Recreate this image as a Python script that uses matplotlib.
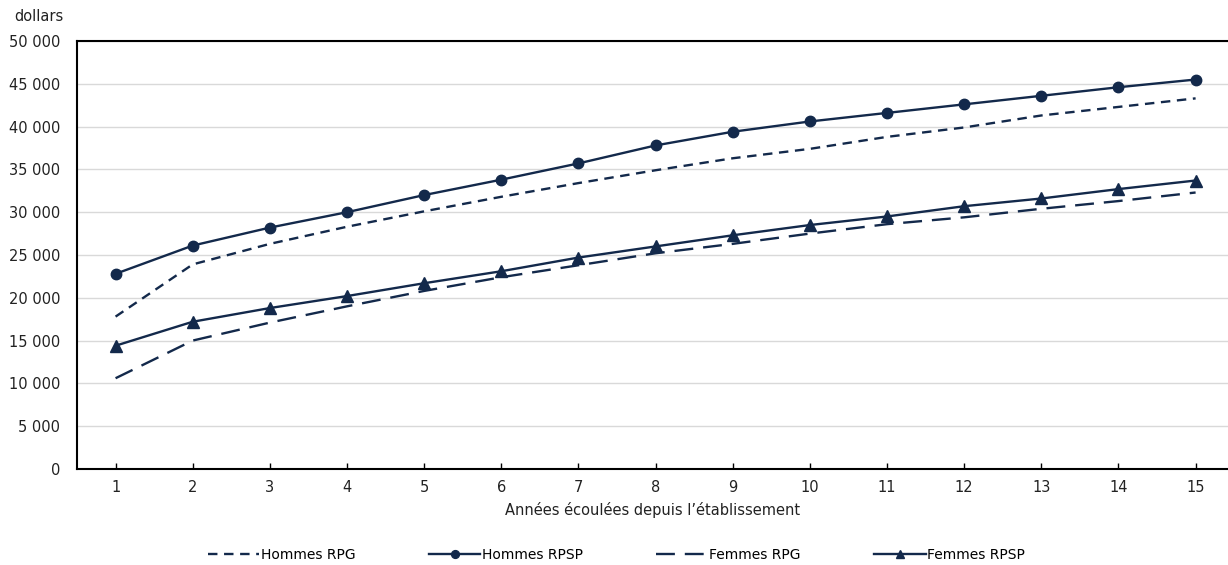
# coding: utf-8
import matplotlib
matplotlib.use("Agg")
from matplotlib import pyplot as plt
from matplotlib.ticker import FuncFormatter

years = list(range(1, 16))
hommes_rpg = [17.8, 23.9, 26.3, 28.3, 30.1, 31.8, 33.4, 34.9, 36.3, 37.4, 38.8, 39.9, 41.3, 42.3, 43.3]
hommes_rpsp = [22.8, 26.1, 28.2, 30.0, 32.0, 33.8, 35.7, 37.8, 39.4, 40.6, 41.6, 42.6, 43.6, 44.6, 45.5]
femmes_rpg = [10.6, 15.0, 17.1, 19.0, 20.8, 22.4, 23.8, 25.2, 26.3, 27.5, 28.6, 29.4, 30.4, 31.3, 32.3]
femmes_rpsp = [14.4, 17.2, 18.8, 20.2, 21.7, 23.1, 24.7, 26.0, 27.3, 28.5, 29.5, 30.7, 31.6, 32.7, 33.7]
labels = ["Hommes RPG", "Hommes RPSP", "Femmes RPG", "Femmes RPSP"]

NAVY = "#13294b"
TEXT = "#222222"
plt.rcParams['font.family'] = ['DejaVu Sans']

fig = plt.figure(figsize=(12.28, 5.65), dpi=100)
ax = fig.add_axes([0.0627, 0.170, 0.9373, 0.7574])

k = lambda v: [x * 1000 for x in v]
ax.plot(years, k(hommes_rpg), color=NAVY, lw=1.7, dashes=(4.0, 2.8), label=labels[0])
ax.plot(years, k(hommes_rpsp), color=NAVY, lw=1.7, marker="o", ms=7.5, label=labels[1])
ax.plot(years, k(femmes_rpg), color=NAVY, lw=1.7, dashes=(8.0, 4.2), label=labels[2])
ax.plot(years, k(femmes_rpsp), color=NAVY, lw=1.7, marker="^", ms=8, label=labels[3])

ax.set_xlim(0.5, 15.42)
ax.set_ylim(0, 50000)
ax.set_xticks(years)
ax.set_yticks(range(0, 50001, 5000))
ax.yaxis.set_major_formatter(FuncFormatter(lambda v, p: "{:,}".format(int(v)).replace(",", " ")))
ax.tick_params(axis="x", direction="in", length=4, width=1, colors="black", labelcolor=TEXT, labelsize=10.5, pad=8)
ax.tick_params(axis="y", length=0, labelcolor=TEXT, labelsize=10.5, pad=12)
ax.grid(axis="y", color="#d9d9d9", lw=1)
ax.set_axisbelow(True)
for s in ["left", "bottom", "top"]:
    ax.spines[s].set_linewidth(1.5)
    ax.spines[s].set_color("black")
ax.spines["right"].set_visible(False)

ax.set_xlabel("Années écoulées depuis l’établissement", fontsize=10.5, color=TEXT, labelpad=5)
fig.text(0.012, 0.962, "dollars", fontsize=10.5, color=TEXT)

leg = fig.legend(loc="center", bbox_to_anchor=(0.502, 0.018), ncol=4, frameon=False,
                 handlelength=3.7, handletextpad=0.1, columnspacing=5.3, markerscale=0.75,
                 prop={"family": ["Liberation Sans Narrow", "DejaVu Sans"], "size": 10})

fig.savefig("out.png", dpi=100)
